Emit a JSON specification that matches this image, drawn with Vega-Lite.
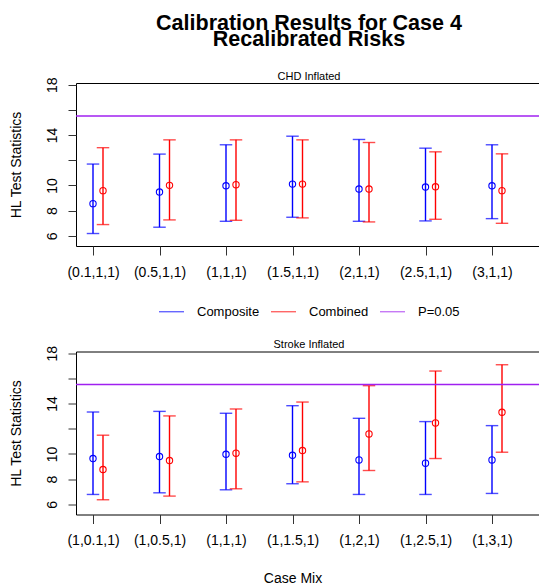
{
  "$schema": "https://vega.github.io/schema/vega-lite/v6.json",
  "padding": {"left": 8, "top": 12, "right": 0, "bottom": 0},
  "background": "white",
  "datasets": {
    "chd": [
      {"mix": "(0.1,1,1)", "series": "Composite", "est": 8.56, "lo": 6.19, "hi": 11.7},
      {"mix": "(0.1,1,1)", "series": "Combined", "est": 9.59, "lo": 6.9, "hi": 13.0},
      {"mix": "(0.5,1,1)", "series": "Composite", "est": 9.48, "lo": 6.69, "hi": 12.49},
      {"mix": "(0.5,1,1)", "series": "Combined", "est": 10.01, "lo": 7.27, "hi": 13.62},
      {"mix": "(1,1,1)", "series": "Composite", "est": 9.98, "lo": 7.16, "hi": 13.23},
      {"mix": "(1,1,1)", "series": "Combined", "est": 10.06, "lo": 7.24, "hi": 13.62},
      {"mix": "(1.5,1,1)", "series": "Composite", "est": 10.11, "lo": 7.48, "hi": 13.91},
      {"mix": "(1.5,1,1)", "series": "Combined", "est": 10.11, "lo": 7.43, "hi": 13.62},
      {"mix": "(2,1,1)", "series": "Composite", "est": 9.72, "lo": 7.16, "hi": 13.65},
      {"mix": "(2,1,1)", "series": "Combined", "est": 9.72, "lo": 7.11, "hi": 13.41},
      {"mix": "(2.5,1,1)", "series": "Composite", "est": 9.88, "lo": 7.19, "hi": 12.96},
      {"mix": "(2.5,1,1)", "series": "Combined", "est": 9.9, "lo": 7.32, "hi": 12.67},
      {"mix": "(3,1,1)", "series": "Composite", "est": 9.98, "lo": 7.37, "hi": 13.23},
      {"mix": "(3,1,1)", "series": "Combined", "est": 9.59, "lo": 7.0, "hi": 12.51}
    ],
    "stroke": [
      {"mix": "(1,0.1,1)", "series": "Composite", "est": 9.64, "lo": 6.79, "hi": 13.33},
      {"mix": "(1,0.1,1)", "series": "Combined", "est": 8.77, "lo": 6.37, "hi": 11.49},
      {"mix": "(1,0.5,1)", "series": "Composite", "est": 9.8, "lo": 6.92, "hi": 13.38},
      {"mix": "(1,0.5,1)", "series": "Combined", "est": 9.48, "lo": 6.66, "hi": 13.02},
      {"mix": "(1,1,1)", "series": "Composite", "est": 9.98, "lo": 7.16, "hi": 13.23},
      {"mix": "(1,1,1)", "series": "Combined", "est": 10.06, "lo": 7.24, "hi": 13.57},
      {"mix": "(1,1.5,1)", "series": "Composite", "est": 9.9, "lo": 7.64, "hi": 13.83},
      {"mix": "(1,1.5,1)", "series": "Combined", "est": 10.27, "lo": 7.79, "hi": 14.12},
      {"mix": "(1,2,1)", "series": "Composite", "est": 9.53, "lo": 6.79, "hi": 12.83},
      {"mix": "(1,2,1)", "series": "Combined", "est": 11.59, "lo": 8.69, "hi": 15.42},
      {"mix": "(1,2.5,1)", "series": "Composite", "est": 9.27, "lo": 6.79, "hi": 12.57},
      {"mix": "(1,2.5,1)", "series": "Combined", "est": 12.46, "lo": 9.64, "hi": 16.58},
      {"mix": "(1,3,1)", "series": "Composite", "est": 9.53, "lo": 6.87, "hi": 12.25},
      {"mix": "(1,3,1)", "series": "Combined", "est": 13.31, "lo": 10.14, "hi": 17.08}
    ],
    "threshold": [
      {"label": "P=0.05", "value": 15.51}
    ]
  },
  "spacing": 18.5,
  "resolve": {"legend": {"color": "independent"}},
  "vconcat": [
    {
      "width": 466,
      "height": 163,
      "title": {
        "text": ["Calibration Results for Case 4", "Recalibrated Risks"],
        "subtitle": "CHD Inflated",
        "fontSize": 21.5,
        "fontWeight": "bold",
        "lineHeight": 16,
        "subtitleFontSize": 11,
        "subtitlePadding": 20,
        "subtitleColor": "black",
        "color": "black",
        "anchor": "middle",
        "frame": "group",
        "offset": -5
      },
      "layer": [
        {
          "data": {"name": "chd"},
          "transform": [{"filter": "datum.series == 'Composite'"}],
          "mark": {"type": "rule", "strokeWidth": 1.4},
          "encoding": {
            "x": {"field": "mix", "type": "nominal", "sort": null,
                  "scale": {"type": "point", "range": [17, 416], "padding": 0},
                  "axis": {"title": null, "labelAngle": 0, "tickSize": 9, "labelPadding": 10}},
            "y": {"field": "lo", "type": "quantitative",
                  "scale": {"domain": [5.2, 18.13], "nice": false, "zero": false},
                  "axis": {"title": "HL Test Statistics", "values": [6, 8, 10, 12, 14, 16, 18], "labelAngle": -90,
                           "labelExpr": "datum.value == 12 || datum.value == 16 ? '' : datum.label", "tickSize": 8, "labelPadding": 9, "titlePadding": 22}},
            "y2": {"field": "hi"},
            "color": {"field": "series", "type": "nominal",
                      "scale": {"domain": ["Composite", "Combined", "P=0.05"], "range": ["#0000FF", "#FF0000", "#A020F0"]},
                      "legend": {"orient": "none", "direction": "horizontal", "legendX": 82, "legendY": 215, "title": null,
                                 "symbolType": "stroke", "symbolSize": 625, "symbolStrokeWidth": 1.2, "labelFontSize": 13,
                                 "labelOffset": 12, "columnPadding": 8, "padding": 0}}
          }
        },
        {
          "data": {"name": "chd"},
          "transform": [{"filter": "datum.series == 'Composite'"}],
          "mark": {"type": "tick", "thickness": 1.4, "size": 12.5},
          "encoding": {
            "x": {"field": "mix", "type": "nominal", "sort": null, "axis": {"title": null, "labelAngle": 0, "tickSize": 9, "labelPadding": 10}},
            "y": {"field": "lo", "type": "quantitative",
                  "axis": {"title": "HL Test Statistics", "values": [6, 8, 10, 12, 14, 16, 18], "labelAngle": -90,
                           "labelExpr": "datum.value == 12 || datum.value == 16 ? '' : datum.label", "tickSize": 8, "labelPadding": 9, "titlePadding": 22}},
            "color": {"field": "series", "type": "nominal"}
          }
        },
        {
          "data": {"name": "chd"},
          "transform": [{"filter": "datum.series == 'Composite'"}],
          "mark": {"type": "tick", "thickness": 1.4, "size": 12.5},
          "encoding": {
            "x": {"field": "mix", "type": "nominal", "sort": null, "axis": {"title": null, "labelAngle": 0, "tickSize": 9, "labelPadding": 10}},
            "y": {"field": "hi", "type": "quantitative",
                  "axis": {"title": "HL Test Statistics", "values": [6, 8, 10, 12, 14, 16, 18], "labelAngle": -90,
                           "labelExpr": "datum.value == 12 || datum.value == 16 ? '' : datum.label", "tickSize": 8, "labelPadding": 9, "titlePadding": 22}},
            "color": {"field": "series", "type": "nominal"}
          }
        },
        {
          "data": {"name": "chd"},
          "transform": [{"filter": "datum.series == 'Composite'"}],
          "mark": {"type": "point", "filled": false, "size": 40, "strokeWidth": 1.1, "opacity": 1},
          "encoding": {
            "x": {"field": "mix", "type": "nominal", "sort": null, "axis": {"title": null, "labelAngle": 0, "tickSize": 9, "labelPadding": 10}},
            "y": {"field": "est", "type": "quantitative",
                  "axis": {"title": "HL Test Statistics", "values": [6, 8, 10, 12, 14, 16, 18], "labelAngle": -90,
                           "labelExpr": "datum.value == 12 || datum.value == 16 ? '' : datum.label", "tickSize": 8, "labelPadding": 9, "titlePadding": 22}},
            "color": {"field": "series", "type": "nominal"}
          }
        },
        {
          "data": {"name": "chd"},
          "transform": [{"filter": "datum.series == 'Combined'"}],
          "mark": {"type": "rule", "strokeWidth": 1.4, "xOffset": 10},
          "encoding": {
            "x": {"field": "mix", "type": "nominal", "sort": null, "axis": {"title": null, "labelAngle": 0, "tickSize": 9, "labelPadding": 10}},
            "y": {"field": "lo", "type": "quantitative",
                  "axis": {"title": "HL Test Statistics", "values": [6, 8, 10, 12, 14, 16, 18], "labelAngle": -90,
                           "labelExpr": "datum.value == 12 || datum.value == 16 ? '' : datum.label", "tickSize": 8, "labelPadding": 9, "titlePadding": 22}},
            "y2": {"field": "hi"},
            "color": {"field": "series", "type": "nominal"}
          }
        },
        {
          "data": {"name": "chd"},
          "transform": [{"filter": "datum.series == 'Combined'"}],
          "mark": {"type": "tick", "thickness": 1.4, "size": 12.5, "xOffset": 10},
          "encoding": {
            "x": {"field": "mix", "type": "nominal", "sort": null, "axis": {"title": null, "labelAngle": 0, "tickSize": 9, "labelPadding": 10}},
            "y": {"field": "lo", "type": "quantitative",
                  "axis": {"title": "HL Test Statistics", "values": [6, 8, 10, 12, 14, 16, 18], "labelAngle": -90,
                           "labelExpr": "datum.value == 12 || datum.value == 16 ? '' : datum.label", "tickSize": 8, "labelPadding": 9, "titlePadding": 22}},
            "color": {"field": "series", "type": "nominal"}
          }
        },
        {
          "data": {"name": "chd"},
          "transform": [{"filter": "datum.series == 'Combined'"}],
          "mark": {"type": "tick", "thickness": 1.4, "size": 12.5, "xOffset": 10},
          "encoding": {
            "x": {"field": "mix", "type": "nominal", "sort": null, "axis": {"title": null, "labelAngle": 0, "tickSize": 9, "labelPadding": 10}},
            "y": {"field": "hi", "type": "quantitative",
                  "axis": {"title": "HL Test Statistics", "values": [6, 8, 10, 12, 14, 16, 18], "labelAngle": -90,
                           "labelExpr": "datum.value == 12 || datum.value == 16 ? '' : datum.label", "tickSize": 8, "labelPadding": 9, "titlePadding": 22}},
            "color": {"field": "series", "type": "nominal"}
          }
        },
        {
          "data": {"name": "chd"},
          "transform": [{"filter": "datum.series == 'Combined'"}],
          "mark": {"type": "point", "filled": false, "size": 40, "strokeWidth": 1.1, "opacity": 1, "xOffset": 10},
          "encoding": {
            "x": {"field": "mix", "type": "nominal", "sort": null, "axis": {"title": null, "labelAngle": 0, "tickSize": 9, "labelPadding": 10}},
            "y": {"field": "est", "type": "quantitative",
                  "axis": {"title": "HL Test Statistics", "values": [6, 8, 10, 12, 14, 16, 18], "labelAngle": -90,
                           "labelExpr": "datum.value == 12 || datum.value == 16 ? '' : datum.label", "tickSize": 8, "labelPadding": 9, "titlePadding": 22}},
            "color": {"field": "series", "type": "nominal"}
          }
        },
        {
          "data": {"name": "threshold"},
          "mark": {"type": "rule", "strokeWidth": 1.4},
          "encoding": {
            "y": {"field": "value", "type": "quantitative",
                  "axis": {"title": "HL Test Statistics", "values": [6, 8, 10, 12, 14, 16, 18], "labelAngle": -90,
                           "labelExpr": "datum.value == 12 || datum.value == 16 ? '' : datum.label", "tickSize": 8, "labelPadding": 9, "titlePadding": 22}},
            "color": {"field": "label", "type": "nominal"}
          }
        }
      ]
    },
    {
      "width": 466,
      "height": 163,
      "title": {
        "text": "Stroke Inflated",
        "fontSize": 11,
        "fontWeight": "normal",
        "color": "black",
        "anchor": "middle",
        "frame": "group",
        "offset": -5
      },
      "layer": [
        {
          "data": {"name": "stroke"},
          "transform": [{"filter": "datum.series == 'Composite'"}],
          "mark": {"type": "rule", "strokeWidth": 1.4},
          "encoding": {
            "x": {"field": "mix", "type": "nominal", "sort": null,
                  "scale": {"type": "point", "range": [17, 416], "padding": 0},
                  "axis": {"title": "Case Mix", "labelAngle": 0, "tickSize": 9, "labelPadding": 10, "titlePadding": 24}},
            "y": {"field": "lo", "type": "quantitative",
                  "scale": {"domain": [5.2, 18.13], "nice": false, "zero": false},
                  "axis": {"title": "HL Test Statistics", "values": [6, 8, 10, 12, 14, 16, 18], "labelAngle": -90,
                           "labelExpr": "datum.value == 12 || datum.value == 16 ? '' : datum.label", "tickSize": 8, "labelPadding": 9, "titlePadding": 22}},
            "y2": {"field": "hi"},
            "color": {"field": "series", "type": "nominal",
                      "scale": {"domain": ["Composite", "Combined", "P=0.05"], "range": ["#0000FF", "#FF0000", "#A020F0"]},
                      "legend": null}
          }
        },
        {
          "data": {"name": "stroke"},
          "transform": [{"filter": "datum.series == 'Composite'"}],
          "mark": {"type": "tick", "thickness": 1.4, "size": 12.5},
          "encoding": {
            "x": {"field": "mix", "type": "nominal", "sort": null, "axis": {"title": "Case Mix", "labelAngle": 0, "tickSize": 9, "labelPadding": 10, "titlePadding": 24}},
            "y": {"field": "lo", "type": "quantitative",
                  "axis": {"title": "HL Test Statistics", "values": [6, 8, 10, 12, 14, 16, 18], "labelAngle": -90,
                           "labelExpr": "datum.value == 12 || datum.value == 16 ? '' : datum.label", "tickSize": 8, "labelPadding": 9, "titlePadding": 22}},
            "color": {"field": "series", "type": "nominal", "legend": null}
          }
        },
        {
          "data": {"name": "stroke"},
          "transform": [{"filter": "datum.series == 'Composite'"}],
          "mark": {"type": "tick", "thickness": 1.4, "size": 12.5},
          "encoding": {
            "x": {"field": "mix", "type": "nominal", "sort": null, "axis": {"title": "Case Mix", "labelAngle": 0, "tickSize": 9, "labelPadding": 10, "titlePadding": 24}},
            "y": {"field": "hi", "type": "quantitative",
                  "axis": {"title": "HL Test Statistics", "values": [6, 8, 10, 12, 14, 16, 18], "labelAngle": -90,
                           "labelExpr": "datum.value == 12 || datum.value == 16 ? '' : datum.label", "tickSize": 8, "labelPadding": 9, "titlePadding": 22}},
            "color": {"field": "series", "type": "nominal", "legend": null}
          }
        },
        {
          "data": {"name": "stroke"},
          "transform": [{"filter": "datum.series == 'Composite'"}],
          "mark": {"type": "point", "filled": false, "size": 40, "strokeWidth": 1.1, "opacity": 1},
          "encoding": {
            "x": {"field": "mix", "type": "nominal", "sort": null, "axis": {"title": "Case Mix", "labelAngle": 0, "tickSize": 9, "labelPadding": 10, "titlePadding": 24}},
            "y": {"field": "est", "type": "quantitative",
                  "axis": {"title": "HL Test Statistics", "values": [6, 8, 10, 12, 14, 16, 18], "labelAngle": -90,
                           "labelExpr": "datum.value == 12 || datum.value == 16 ? '' : datum.label", "tickSize": 8, "labelPadding": 9, "titlePadding": 22}},
            "color": {"field": "series", "type": "nominal", "legend": null}
          }
        },
        {
          "data": {"name": "stroke"},
          "transform": [{"filter": "datum.series == 'Combined'"}],
          "mark": {"type": "rule", "strokeWidth": 1.4, "xOffset": 10},
          "encoding": {
            "x": {"field": "mix", "type": "nominal", "sort": null, "axis": {"title": "Case Mix", "labelAngle": 0, "tickSize": 9, "labelPadding": 10, "titlePadding": 24}},
            "y": {"field": "lo", "type": "quantitative",
                  "axis": {"title": "HL Test Statistics", "values": [6, 8, 10, 12, 14, 16, 18], "labelAngle": -90,
                           "labelExpr": "datum.value == 12 || datum.value == 16 ? '' : datum.label", "tickSize": 8, "labelPadding": 9, "titlePadding": 22}},
            "y2": {"field": "hi"},
            "color": {"field": "series", "type": "nominal", "legend": null}
          }
        },
        {
          "data": {"name": "stroke"},
          "transform": [{"filter": "datum.series == 'Combined'"}],
          "mark": {"type": "tick", "thickness": 1.4, "size": 12.5, "xOffset": 10},
          "encoding": {
            "x": {"field": "mix", "type": "nominal", "sort": null, "axis": {"title": "Case Mix", "labelAngle": 0, "tickSize": 9, "labelPadding": 10, "titlePadding": 24}},
            "y": {"field": "lo", "type": "quantitative",
                  "axis": {"title": "HL Test Statistics", "values": [6, 8, 10, 12, 14, 16, 18], "labelAngle": -90,
                           "labelExpr": "datum.value == 12 || datum.value == 16 ? '' : datum.label", "tickSize": 8, "labelPadding": 9, "titlePadding": 22}},
            "color": {"field": "series", "type": "nominal", "legend": null}
          }
        },
        {
          "data": {"name": "stroke"},
          "transform": [{"filter": "datum.series == 'Combined'"}],
          "mark": {"type": "tick", "thickness": 1.4, "size": 12.5, "xOffset": 10},
          "encoding": {
            "x": {"field": "mix", "type": "nominal", "sort": null, "axis": {"title": "Case Mix", "labelAngle": 0, "tickSize": 9, "labelPadding": 10, "titlePadding": 24}},
            "y": {"field": "hi", "type": "quantitative",
                  "axis": {"title": "HL Test Statistics", "values": [6, 8, 10, 12, 14, 16, 18], "labelAngle": -90,
                           "labelExpr": "datum.value == 12 || datum.value == 16 ? '' : datum.label", "tickSize": 8, "labelPadding": 9, "titlePadding": 22}},
            "color": {"field": "series", "type": "nominal", "legend": null}
          }
        },
        {
          "data": {"name": "stroke"},
          "transform": [{"filter": "datum.series == 'Combined'"}],
          "mark": {"type": "point", "filled": false, "size": 40, "strokeWidth": 1.1, "opacity": 1, "xOffset": 10},
          "encoding": {
            "x": {"field": "mix", "type": "nominal", "sort": null, "axis": {"title": "Case Mix", "labelAngle": 0, "tickSize": 9, "labelPadding": 10, "titlePadding": 24}},
            "y": {"field": "est", "type": "quantitative",
                  "axis": {"title": "HL Test Statistics", "values": [6, 8, 10, 12, 14, 16, 18], "labelAngle": -90,
                           "labelExpr": "datum.value == 12 || datum.value == 16 ? '' : datum.label", "tickSize": 8, "labelPadding": 9, "titlePadding": 22}},
            "color": {"field": "series", "type": "nominal", "legend": null}
          }
        },
        {
          "data": {"name": "threshold"},
          "mark": {"type": "rule", "strokeWidth": 1.4},
          "encoding": {
            "y": {"field": "value", "type": "quantitative",
                  "axis": {"title": "HL Test Statistics", "values": [6, 8, 10, 12, 14, 16, 18], "labelAngle": -90,
                           "labelExpr": "datum.value == 12 || datum.value == 16 ? '' : datum.label", "tickSize": 8, "labelPadding": 9, "titlePadding": 22}},
            "color": {"field": "label", "type": "nominal", "legend": null}
          }
        }
      ]
    }
  ],
  "config": {
    "font": "Liberation Sans",
    "view": {"stroke": "black", "strokeWidth": 1},
    "axis": {
      "grid": false,
      "domain": false,
      "tickColor": "#333333",
      "tickWidth": 1,
      "labelColor": "black",
      "titleColor": "black",
      "labelFontSize": 14,
      "titleFontSize": 14,
      "titleFontWeight": "normal"
    },
    "legend": {"labelColor": "black"}
  }
}
